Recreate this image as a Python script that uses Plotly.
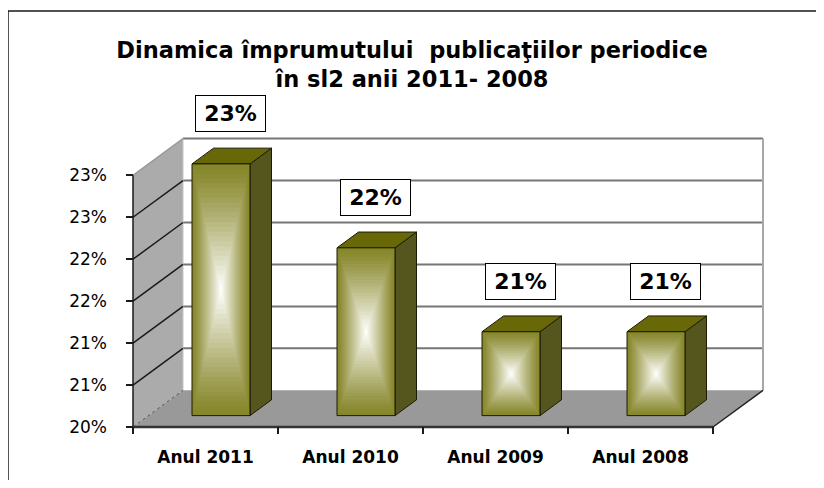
import plotly.graph_objects as go

# ---------------- data ----------------
categories = ["Anul 2011", "Anul 2010", "Anul 2009", "Anul 2008"]
values = [23.0, 22.0, 21.0, 21.0]            # percent
value_labels = ["23%", "22%", "21%", "21%"]
y_tickvals = [20, 20.5, 21, 21.5, 22, 22.5, 23]
y_ticktext = ["20%", "21%", "21%", "22%", "22%", "23%", "23%"]
title_text = "Dinamica împrumutului\u00a0 publicaţiilor periodice<br>în sl2 anii 2011- 2008"

# ---------------- layout geometry (pixels, window coordinates) ----------------
W, H = 824, 488
OFF = 8                          # page body margin in the browser
FW, FH = W - OFF, H - 2 * OFF    # figure size so the page does not overflow
L_EDGE, R_EDGE, T_EDGE, B_EDGE = 126, 770, 136, 434
X0_PX, Y0_PX = 133, 427          # front-left corner of the floor
PXC = 145.0                      # px per category
PXP = 83.9                       # px per percent
BASE, TOP = 20.0, 23.0
DX = 50.0 / PXC                  # depth offset in x units
DY = 36.7 / PXP                  # depth offset in y units
HALF_W = 0.2
D0, D1 = 0.31, 0.74
n = len(categories)

x_range = [-0.5 - (X0_PX - L_EDGE) / PXC, -0.5 + (R_EDGE - X0_PX) / PXC]
y_range = [BASE - (B_EDGE - Y0_PX) / PXP, BASE + (Y0_PX - T_EDGE) / PXP]


def P(x, y, d):
    return x + d * DX, y + d * DY


def poly(points):
    xs = [p[0] for p in points] + [points[0][0]]
    ys = [p[1] for p in points] + [points[0][1]]
    return xs, ys


fig = go.Figure()


def add_poly(points, fill, line_color=None, line_width=0):
    xs, ys = poly(points)
    fig.add_trace(go.Scatter(
        x=xs, y=ys, mode="lines", fill="toself", fillcolor=fill,
        line=dict(color=line_color or fill, width=line_width),
        hoverinfo="skip", showlegend=False))


def add_line(p1, p2, color, width, dash="solid"):
    fig.add_trace(go.Scatter(
        x=[p1[0], p2[0]], y=[p1[1], p2[1]], mode="lines",
        line=dict(color=color, width=width, dash=dash),
        hoverinfo="skip", showlegend=False))


xl, xr = -0.5, n - 0.5

# left wall
add_poly([P(xl, BASE, 0), P(xl, TOP, 0), P(xl, TOP, 1), P(xl, BASE, 1)], "#ababab")
# floor
add_poly([P(xl, BASE, 0), P(xr, BASE, 0), P(xr, BASE, 1), P(xl, BASE, 1)], "#999999")

# back wall gridlines
for v in y_tickvals[1:]:
    add_line(P(xl, v, 1), P(xr, v, 1), "#767676", 2)
# back wall edges
add_line(P(xr, BASE, 1), P(xr, TOP, 1), "#a8a8a8", 2)
add_line(P(xl, BASE, 1), P(xl, TOP, 1), "#c4c4c4", 1)

# left wall diagonals
for v in y_tickvals:
    if v == BASE:
        add_line(P(xl, v, 0), P(xl, v, 1), "#555555", 1, "dot")
    elif v == TOP:
        add_line(P(xl, v, 0), P(xl, v, 1), "#9a9a9a", 1.5)
    else:
        add_line(P(xl, v, 0), P(xl, v, 1), "#1a1a1a", 1.5)

# axis lines / floor edges
add_line(P(xl, BASE, 0), P(xl, TOP, 0), "#1a1a1a", 1.5)
add_line(P(xl, BASE, 0), P(xr, BASE, 0), "#333333", 2.5)
add_line(P(xr, BASE, 0), P(xr, BASE, 1), "#222222", 1.5)

# bars: side and top faces
SIDE = "#55561e"
TOPC = "#686808"
EDGE = "#1c1c05"
for i, v in enumerate(values):
    add_poly([P(i + HALF_W, BASE, D0), P(i + HALF_W, v, D0),
              P(i + HALF_W, v, D1), P(i + HALF_W, BASE, D1)], SIDE, EDGE, 1)
    add_poly([P(i - HALF_W, v, D0), P(i + HALF_W, v, D0),
              P(i + HALF_W, v, D1), P(i - HALF_W, v, D1)], TOPC, EDGE, 1)

# front faces: "from center" gradient as nested rectangles
olive = (134, 134, 42)
white = (252, 252, 248)
N = 26
for k in range(N):
    s = 1.0 - k / N
    t = (k / (N - 1)) ** 1.15
    col = "rgb(%d,%d,%d)" % tuple(round(olive[j] + (white[j] - olive[j]) * t) for j in range(3))
    xs, ys = [], []
    for i, v in enumerate(values):
        cx, cy = P(i, (BASE + v) / 2, D0)
        hw = HALF_W * s
        hh = (v - BASE) / 2 * s
        xs += [cx - hw, cx + hw, cx + hw, cx - hw, cx - hw, None]
        ys += [cy - hh, cy - hh, cy + hh, cy + hh, cy - hh, None]
    fig.add_trace(go.Scatter(x=xs, y=ys, mode="lines", fill="toself", fillcolor=col,
                             line=dict(width=0, color=col), hoverinfo="skip",
                             showlegend=False))

# front outlines
for i, v in enumerate(values):
    pts = [P(i - HALF_W, BASE, D0), P(i + HALF_W, BASE, D0),
           P(i + HALF_W, v, D0), P(i - HALF_W, v, D0)]
    xs, ys = poly(pts)
    fig.add_trace(go.Scatter(x=xs, y=ys, mode="lines", line=dict(color=EDGE, width=1),
                             hoverinfo="skip", showlegend=False))

# value labels
for i, (v, lab) in enumerate(zip(values, value_labels)):
    ax_, _ = P(i, v, 0.5)
    _, ay_ = P(i, v, D0)
    fig.add_annotation(
        x=ax_, y=ay_, text=lab, showarrow=False, yshift=50,
        font=dict(family="DejaVu Sans", size=22, color="black", weight="bold"),
        bgcolor="white", bordercolor="black", borderwidth=1, borderpad=3,
        width=63, height=29)

# outer frame (paper coordinates derived from window pixels)
def px2paper_x(px):
    return (px - L_EDGE) / (R_EDGE - L_EDGE)


def px2paper_y(py):
    return (B_EDGE - py) / (B_EDGE - T_EDGE)


fig.add_shape(type="rect", xref="paper", yref="paper",
              x0=px2paper_x(8), x1=px2paper_x(820),
              y0=px2paper_y(520), y1=px2paper_y(11),
              line=dict(color="#1a1a1a", width=1.5), fillcolor="rgba(0,0,0,0)",
              layer="above")

fig.update_layout(
    width=FW, height=FH, autosize=False,
    margin=dict(l=L_EDGE - OFF, r=FW - (R_EDGE - OFF), t=T_EDGE - OFF,
                b=FH - (B_EDGE - OFF), pad=0),
    paper_bgcolor="white", plot_bgcolor="white",
    hovermode=False, showlegend=False,
    title=dict(text=title_text, x=(412 - OFF) / FW, xanchor="center", xref="container",
               y=1 - (58 - OFF) / FH, yanchor="middle", yref="container",
               font=dict(family="DejaVu Sans", size=22.5, color="black", weight="bold")),
    xaxis=dict(range=x_range, showgrid=False, zeroline=False, showline=False,
               tickmode="array", tickvals=list(range(n)), ticktext=categories,
               ticks="", ticklabelstandoff=11,
               tickfont=dict(family="DejaVu Sans", size=17, color="black", weight="bold"),
               minor=dict(tickmode="array", tickvals=[i - 0.5 for i in range(n + 1)],
                          ticks="inside", ticklen=7, tickwidth=1.5, tickcolor="#1a1a1a",
                          showgrid=False),
               fixedrange=True),
    yaxis=dict(range=y_range, showgrid=False, zeroline=False, showline=False,
               tickmode="array", tickvals=y_tickvals, ticktext=y_ticktext,
               ticks="inside", ticklen=7, tickwidth=1.5, tickcolor="#1a1a1a",
               ticklabelstandoff=18,
               tickfont=dict(family="DejaVu Sans", size=17, color="black"),
               fixedrange=True),
)

fig.write_html("out.html")
